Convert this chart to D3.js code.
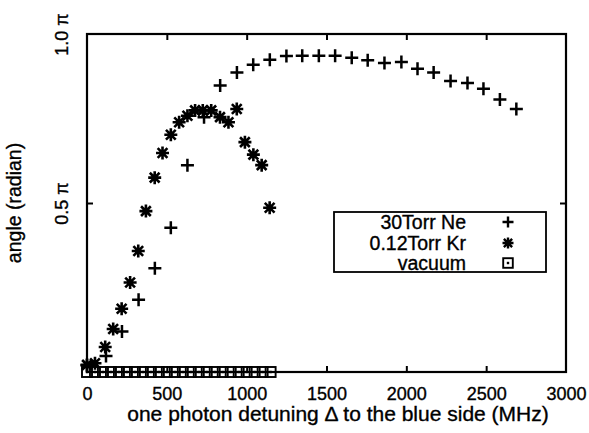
<!DOCTYPE html>
<html>
<head>
<meta charset="utf-8">
<script src="https://cdn.jsdelivr.net/npm/d3@7"></script>
<style>
  html, body { margin: 0; padding: 0; background: #fff; }
  svg { display: block; }
  text { font-family: "Liberation Sans", Arial, Helvetica, sans-serif; fill: #000; stroke: #000; stroke-width: 0.35px; }
</style>
</head>
<body>
<svg id="chart" width="589" height="433"></svg>
<script>
// ---- data ----
const neX = [0, 119, 219, 323, 425, 525, 629, 733, 834, 939, 1041, 1145, 1249, 1348, 1452, 1554, 1658, 1758, 1863, 1969, 2070, 2171, 2277, 2383, 2483, 2586, 2689];
const neY = [0.02, 0.047, 0.120, 0.214, 0.307, 0.427, 0.612, 0.754, 0.848, 0.886, 0.909, 0.924, 0.935, 0.936, 0.936, 0.936, 0.930, 0.922, 0.914, 0.917, 0.897, 0.886, 0.861, 0.855, 0.838, 0.806, 0.778];
const krX = [0, 50, 114, 164, 217, 270, 321, 369, 424, 473, 525, 577, 629, 677, 725, 778, 833, 886, 938, 989, 1042, 1094, 1144];
const krY = [0.021, 0.026, 0.074, 0.127, 0.187, 0.265, 0.358, 0.476, 0.575, 0.648, 0.702, 0.739, 0.758, 0.774, 0.774, 0.774, 0.754, 0.739, 0.778, 0.680, 0.643, 0.612, 0.486];
const vacX = [0, 50, 100, 150, 200, 250, 300, 350, 400, 450, 500, 550, 600, 650, 700, 750, 800, 850, 900, 950, 1000, 1050, 1100, 1150];
const vacY = vacX.map(() => 0);
const xTicks = [0, 500, 1000, 1500, 2000, 2500, 3000];
const yTicks = [0.5, 1.0];
const seriesNames = ["30Torr Ne", "0.12Torr Kr", "vacuum"];
const xTitle = "one photon detuning \u0394 to the blue side (MHz)";
const yTitle = "angle (radian)";

// ---- layout ----
const L = 87, R = 566, T = 34, B = 372;
const svg = d3.select("#chart");
const x = d3.scaleLinear().domain([0, 3000]).range([L, R]);
const y = d3.scaleLinear().domain([0, 1]).range([B, T]);

// frame
svg.append("rect").attr("x", L).attr("y", T).attr("width", R - L).attr("height", B - T)
  .attr("fill", "none").attr("stroke", "#000").attr("stroke-width", 2.2);

// bottom axis (labels + inner ticks)
const gx = svg.append("g").attr("transform", `translate(0,${B})`)
  .call(d3.axisBottom(x).tickValues(xTicks).tickSizeInner(-6).tickSizeOuter(0).tickPadding(15).tickFormat(d3.format("d")));
gx.select(".domain").remove();
gx.selectAll("line").attr("stroke", "#000").attr("stroke-width", 2)
  .filter(d => d === 0 || d === 3000).remove();
gx.selectAll("text").style("font-size", "18px").attr("font-family", null);

// top ticks
const gxt = svg.append("g").attr("transform", `translate(0,${T})`)
  .call(d3.axisTop(x).tickValues(xTicks.filter(d => d > 0 && d < 3000)).tickSizeInner(-6).tickSizeOuter(0).tickFormat(""));
gxt.select(".domain").remove();
gxt.selectAll("line").attr("stroke", "#000").attr("stroke-width", 2);

// left axis
const gy = svg.append("g").attr("transform", `translate(${L},0)`)
  .call(d3.axisLeft(y).tickValues(yTicks).tickSizeInner(-6).tickSizeOuter(0).tickFormat(d => d.toFixed(1) + " \u03c0"));
gy.select(".domain").remove();
gy.selectAll("line").attr("stroke", "#000").attr("stroke-width", 2).filter(d => d === 1).remove();
gy.selectAll("text")
  .attr("x", null).attr("dy", null).attr("text-anchor", "middle").attr("font-family", null)
  .style("font-size", "18px")
  .attr("transform", `translate(${68 - L},0) rotate(-90)`);

// right ticks
const gyr = svg.append("g").attr("transform", `translate(${R},0)`)
  .call(d3.axisRight(y).tickValues([0.5]).tickSizeInner(-6).tickSizeOuter(0).tickFormat(""));
gyr.select(".domain").remove();
gyr.selectAll("line").attr("stroke", "#000").attr("stroke-width", 2);

// titles
svg.append("text").attr("x", 338).attr("y", 421).attr("text-anchor", "middle")
  .style("font-size", "21px").text(xTitle);
svg.append("text").attr("transform", `translate(21,${(T + B) / 2}) rotate(-90)`)
  .attr("text-anchor", "middle").style("font-size", "19.5px").text(yTitle);

// markers
const plusPath = s => `M${-s},0H${s}M0,${-s}V${s}`;
const starPath = s => { const d = s * 0.75; return `M${-s},0H${s}M0,${-s}V${s}M${-d},${-d}L${d},${d}M${-d},${d}L${d},${-d}`; };
function drawSquare(g, cx, cy, s) {
  g.append("rect").attr("x", cx - s).attr("y", cy - s).attr("width", 2 * s).attr("height", 2 * s)
    .attr("fill", "none").attr("stroke", "#000").attr("stroke-width", 1.9);
  g.append("rect").attr("x", cx - 1.2).attr("y", cy - 1.2).attr("width", 2.4).attr("height", 2.4).attr("fill", "#000");
}

const gVac = svg.append("g");
vacX.forEach((v, i) => drawSquare(gVac, x(v), y(vacY[i]), 5));

svg.append("g").selectAll("path").data(krX.map((v, i) => [v, krY[i]])).join("path")
  .attr("d", starPath(6.5)).attr("transform", d => `translate(${x(d[0])},${y(d[1])})`)
  .attr("stroke", "#000").attr("stroke-width", 2.6).attr("fill", "none");

svg.append("g").selectAll("path").data(neX.map((v, i) => [v, neY[i]])).join("path")
  .attr("d", plusPath(6.5)).attr("transform", d => `translate(${x(d[0])},${y(d[1])})`)
  .attr("stroke", "#000").attr("stroke-width", 2.5).attr("fill", "none");

// legend
const lg = svg.append("g");
lg.append("rect").attr("x", 334).attr("y", 212).attr("width", 212).attr("height", 60)
  .attr("fill", "#fff").attr("stroke", "#000").attr("stroke-width", 1.8);
const rowY = [222, 243, 263];
seriesNames.forEach((n, i) => {
  lg.append("text").attr("x", 466).attr("y", rowY[i] + 6.5).attr("text-anchor", "end")
    .style("font-size", "19.5px").text(n);
});
lg.append("path").attr("d", plusPath(5.5)).attr("transform", `translate(508,${rowY[0]})`)
  .attr("stroke", "#000").attr("stroke-width", 2.4);
lg.append("path").attr("d", starPath(5.5)).attr("transform", `translate(508,${rowY[1]})`)
  .attr("stroke", "#000").attr("stroke-width", 2.4);
drawSquare(lg, 508, rowY[2], 4.8);
</script>
</body>
</html>
